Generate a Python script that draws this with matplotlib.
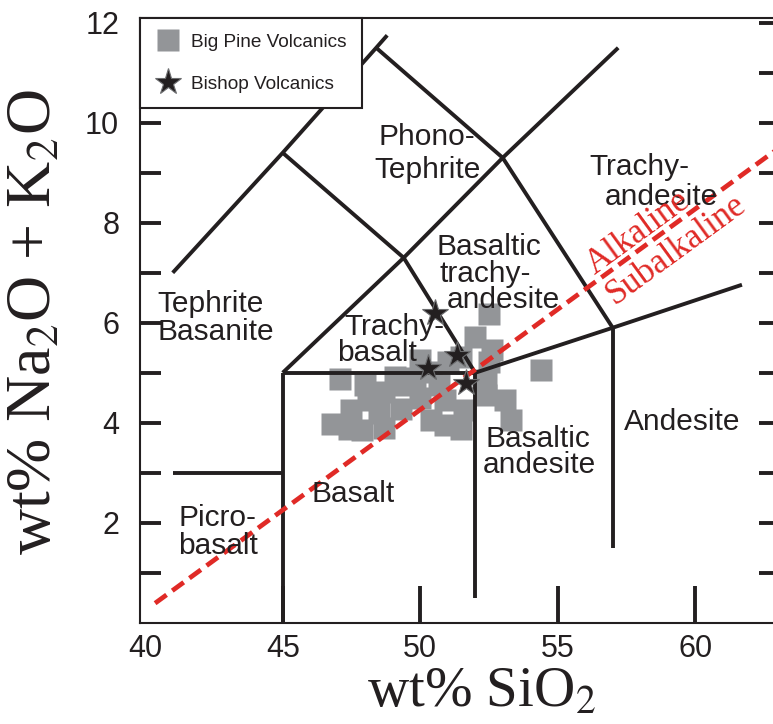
import matplotlib.pyplot as plt
from matplotlib.lines import Line2D

# Big Pine Volcanics (wt% SiO2, wt% Na2O + K2O)
big_pine_sio2 = [52.5, 52.0, 52.6, 52.5, 54.4, 47.1, 46.8, 47.5, 48.1, 48.7,
                 49.3, 49.8, 50.4, 51.0, 51.5, 47.9, 48.7, 48.5, 49.3, 50.0,
                 50.9, 50.9, 51.5, 51.6, 52.4, 53.1, 53.3, 52.4, 50.7, 48.0,
                 49.1, 50.0, 47.4, 50.4]
big_pine_alk = [6.17, 5.71, 5.45, 5.21, 5.05, 4.87, 3.97, 4.25, 4.46, 4.62,
                4.76, 4.90, 5.02, 5.21, 5.31, 3.85, 3.90, 4.20, 4.28, 4.49,
                4.46, 3.95, 3.88, 4.25, 4.55, 4.45, 4.05, 4.85, 4.75, 4.75,
                4.92, 5.25, 3.88, 4.05]

# Bishop Volcanics
bishop_sio2 = [50.54, 51.33, 50.30, 51.65]
bishop_alk = [6.19, 5.35, 5.09, 4.79]

# TAS field boundaries (polylines)
tas_lines = [
    ([41, 45], [3, 3]),
    ([45, 45], [0, 5]),
    ([45, 52], [5, 5]),
    ([52, 52], [0.5, 5]),
    ([52, 57, 61.7], [5, 5.9, 6.76]),
    ([57, 57], [1.5, 5.9]),
    ([45, 49.4, 52], [5, 7.3, 5]),
    ([41, 45, 48.4, 48.8], [7, 9.4, 11.5, 11.75]),
    ([45, 49.4, 53, 57], [9.4, 7.3, 9.3, 5.9]),
    ([48.4, 53, 57.2], [11.5, 9.3, 11.5]),
]

# alkaline / subalkaline divide
alk_line_sio2 = [40.36, 63.1]
alk_line_alk = [0.39, 9.52]

# field names: (text, left SiO2, baseline alk)
field_labels = [
    ("Tephrite", 40.45, 6.22),
    ("Basanite", 40.45, 5.66),
    ("Picro-", 41.2, 1.93),
    ("basalt", 41.2, 1.38),
    ("Basalt", 46.05, 2.42),
    ("Trachy-", 47.25, 5.76),
    ("basalt", 46.96, 5.24),
    ("Phono-", 48.5, 9.55),
    ("Tephrite", 48.35, 8.9),
    ("Basaltic", 50.6, 7.35),
    ("trachy-", 50.7, 6.82),
    ("andesite", 50.96, 6.30),
    ("Trachy-", 56.15, 8.95),
    ("andesite", 56.72, 8.35),
    ("Basaltic", 52.36, 3.52),
    ("andesite", 52.29, 3.0),
    ("Andesite", 57.4, 3.86),
]

dark = '#231f20'
gray = '#939598'
red = '#e02a26'
px_x = 27.5  # pixels per wt% SiO2

fig = plt.figure(figsize=(7.73, 7.24), dpi=100)
ax = fig.add_axes([140 / 773, (724 - 622.7) / 724, 640 / 773, 604.4 / 724])
ax.set_xlim(40 - 5.2 / px_x, 40 + (780 - 145.2) / px_x)
ax.set_ylim(0, 12.09)

ax.plot(big_pine_sio2, big_pine_alk, 's', ms=16.5, color=gray, mec='none', zorder=1)
for xs, ys in tas_lines:
    ax.plot(xs, ys, color=dark, lw=2.8, solid_capstyle='butt', zorder=2)
ax.plot(alk_line_sio2, alk_line_alk, color=red, lw=3.4, ls=(0, (3.0, 1.5)),
        zorder=3)
ax.plot(bishop_sio2, bishop_alk, '*', ms=20, color=dark, mec='#6d6e70',
        mew=0.8, zorder=4)

for txt, x, y in field_labels:
    ax.text(x, y, txt, fontsize=21.5, family='Liberation Sans', color=dark,
            ha='left', va='baseline', zorder=5)

ax.text(57.92, 7.79, 'Alkaline', fontsize=25, family='Liberation Serif',
        color=red, rotation=36.1, rotation_mode='anchor', ha='center',
        va='center', zorder=5)
ax.text(59.30, 7.47, 'Subalkaline', fontsize=25, family='Liberation Serif',
        color=red, rotation=36.1, rotation_mode='anchor', ha='center',
        va='center', zorder=5)

# axes and ticks
for s in ax.spines.values():
    s.set_linewidth(1.5)
    s.set_color(dark)
ax.set_xticks([40, 45, 50, 55, 60])
ax.set_yticks([2, 4, 6, 8, 10, 12])
ax.set_yticks(range(1, 12), minor=True)
ax.tick_params(axis='x', which='major', direction='in', length=27, width=2.8,
               color=dark, pad=8, labelsize=22, labelcolor=dark)
ax.tick_params(axis='y', which='both', direction='in', length=15, width=2.8,
               color=dark, pad=15, labelsize=22, labelcolor=dark,
               left=True, right=True)
ax.xaxis.get_major_ticks()[0].tick1line.set_visible(False)
for t in ax.yaxis.get_major_ticks() + ax.yaxis.get_minor_ticks():
    if t.get_loc() > 8.5:
        t.tick1line.set_visible(False)
for lab in ax.get_xticklabels() + ax.get_yticklabels():
    lab.set_family('Liberation Sans')

plt.rcParams['mathtext.fontset'] = 'stix'
fig.text(482 / 773, 1 - 693 / 724, 'wt% SiO$_2$', fontsize=41,
         family='Liberation Serif', ha='center', va='center', color=dark)
fig.text(36 / 773, 1 - 322 / 724, 'wt% Na$_2$O + K$_2$O', fontsize=46,
         family='Liberation Serif', ha='center', va='center', rotation=90,
         color=dark)

handles = [
    Line2D([], [], ls='none', marker='s', ms=16.5, color=gray, mec='none'),
    Line2D([], [], ls='none', marker='*', ms=20, color=dark, mec='#6d6e70',
           mew=0.8),
]
leg = ax.legend(handles, ['Big Pine Volcanics', 'Bishop Volcanics'],
                loc='upper left', bbox_to_anchor=(0, 1), borderaxespad=0,
                fancybox=False, framealpha=1, edgecolor=dark,
                prop={'family': 'Liberation Sans', 'size': 13.7},
                handlelength=1.3, handletextpad=0.6, labelspacing=1.3,
                borderpad=0.8)
leg.get_frame().set_linewidth(1.5)
leg.set_zorder(10)
for t in leg.get_texts():
    t.set_color(dark)

fig.savefig('out.png', dpi=100)
